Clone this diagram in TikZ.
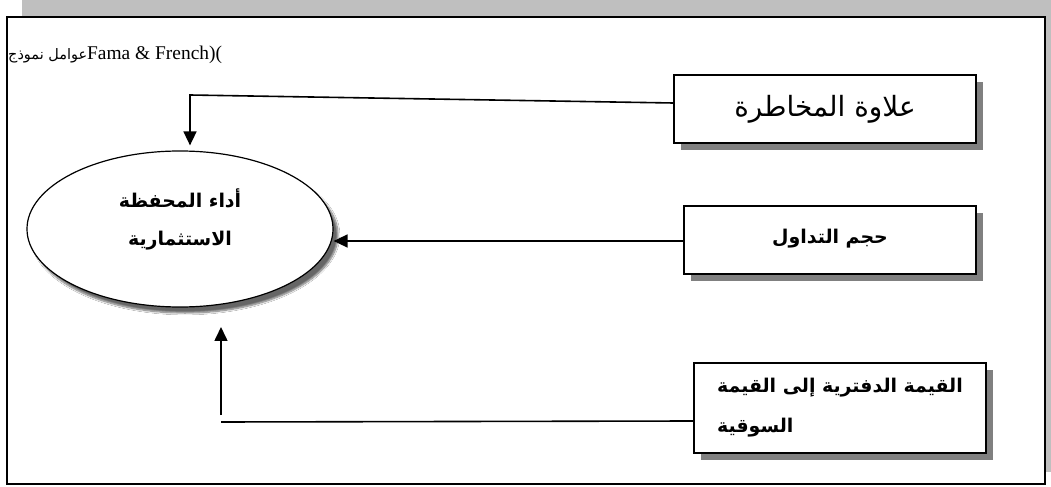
\documentclass[tikz,border=0pt]{standalone}
\usepackage{fontspec}
\setmainfont{Liberation Serif}
\newfontfamily\arabicfont[Script=Arabic]{DejaVu Sans}
\TeXXeTstate=1
\usetikzlibrary{arrows.meta,shapes.geometric,shadows,shadows.blur}

% right-to-left Arabic run
\newcommand\artext[1]{{\arabicfont\beginR #1\endR}}

\tikzset{
  factorbox/.style={draw=black, line width=1.5bp, fill=white, inner sep=0pt,
    drop shadow={shadow xshift=7bp, shadow yshift=-7bp, fill=black!50, opacity=1}},
  outcome/.style={ellipse, draw=black, line width=1.2bp, fill=white, inner sep=0pt,
    blur shadow={shadow xshift=5bp, shadow yshift=-6bp, shadow blur steps=8, shadow opacity=60}},
  link/.style={line width=1.6bp, draw=black},
  tip/.style={-{Triangle[length=14bp,width=13bp]}},
  boldar/.style={font=\fontsize{19}{38}\selectfont\bfseries},
}

\begin{document}
\begin{tikzpicture}[x=1bp, y=-1bp]
  \clip (0,0) rectangle (1051,487);
  % outer frame with its grey offset shadow
  \fill[black!25] (22,-20) rectangle (1060,472);
  \draw[line width=1.6bp, fill=white] (7,17) rectangle (1045,484);

  % heading
  \node[anchor=west, inner sep=0pt] (head) at (8,55)
    {\fontsize{14.5}{17}\selectfont\artext{عوامل نموذج}\fontsize{19.5}{22}\selectfont Fama \& French)(};

  % outcome
  \node[outcome, minimum width=306bp, minimum height=156bp] (perf) at (180,229) {};
  \node[align=center, boldar] (perftext) at (180,219)
    {\artext{أداء المحفظة}\\ \artext{الاستثمارية}};

  % factors
  \node[factorbox, minimum width=302bp, minimum height=68bp,
        font=\fontsize{28}{32}\selectfont] (risk) at (825,109)
    {\artext{علاوة المخاطرة}};
  \node[factorbox, minimum width=292bp, minimum height=68bp, boldar] (vol) at (830,240)
    {\artext{حجم التداول}\rule[-8bp]{0pt}{0pt}};
  \node[factorbox, minimum width=292bp, minimum height=90bp, align=left,
        font=\fontsize{19}{40}\selectfont\bfseries] (bm) at (840,408)
    {\artext{القيمة الدفترية إلى القيمة}\\ \artext{السوقية}};

  % connectors
  \coordinate (rbend) at (190,95);
  \draw[link, tip, shorten >=5bp] ([yshift=6bp]risk.west) -- (rbend) -- (rbend |- perf.north);
  \draw[link, tip] ([yshift=-1bp]vol.west) -- ([yshift=-1bp]vol.west -| perf.east);
  \coordinate (bmend) at (221,422);
  \coordinate (bmfoot) at (221,415);
  \coordinate (bmtip) at (221,327);
  \draw[link] ([yshift=-13bp]bm.west) -- (bmend);
  \draw[link, tip] (bmfoot) -- (bmtip);
\end{tikzpicture}
\end{document}
